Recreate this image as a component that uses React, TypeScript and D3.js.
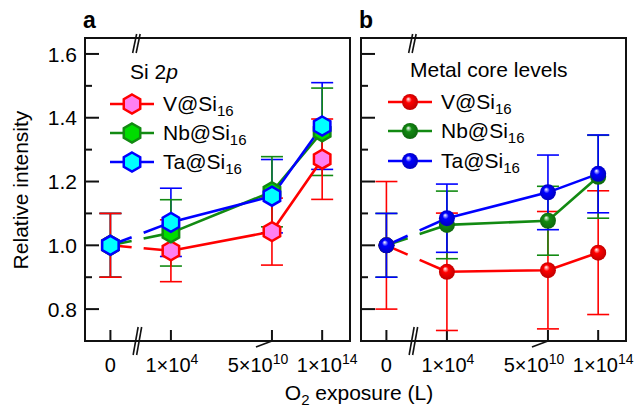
import React from 'react';
import * as d3 from 'd3';

// O2 exposure categories, placed on a broken axis
const exposureUnits = [0, 1, 2.67, 3.5];
const tickBase = ['0', '1×10', '5×10', '1×10'];
const tickExp = ['', '4', '10', '14'];
const axisBreakUnit = 0.45;

const seriesNames = ['V', 'Nb', 'Ta'];

// panel a: Si 2p
const siV = [1.0, 0.983, 1.043, 1.27];
const siVErr = [0.1, 0.097, 0.105, 0.126];
const siNb = [1.0, 1.039, 1.168, 1.356];
const siNbErr = [0.1, 0.104, 0.11, 0.137];
const siTa = [1.0, 1.072, 1.154, 1.374];
const siTaErr = [0.1, 0.107, 0.115, 0.136];

// panel b: metal core levels
const mV = [1.0, 0.917, 0.922, 0.977];
const mVErr = [0.2, 0.184, 0.184, 0.194];
const mNb = [1.0, 1.064, 1.077, 1.215];
const mNbErr = [0.1, 0.106, 0.108, 0.13];
const mTa = [1.0, 1.085, 1.166, 1.224];
const mTaErr = [0.1, 0.107, 0.117, 0.122];

const yMajor = [0.8, 1.0, 1.2, 1.4, 1.6];
const yMinor = [0.9, 1.1, 1.3, 1.5];

const colors = { V: '#ff0000', Nb: '#128a12', Ta: '#0000ff' };
const hexFill = { V: '#ff80f0', Nb: '#00dd00', Ta: '#00ffff' };

const FONT = '"Liberation Sans", Arial, Helvetica, sans-serif';
const W = 640;
const H = 409;
const top = 38;
const bottom = 341;
const panelW = 265;

const y = d3.scaleLinear().domain([0.7, 1.65]).range([bottom, top]);

const hexPath = (cx, cy, r) => {
  const pts = d3.range(6).map(k => {
    const a = (Math.PI / 180) * (-90 + 60 * k);
    return [cx + r * Math.cos(a), cy + r * Math.sin(a)];
  });
  return 'M' + pts.map(p => p.join(',')).join('L') + 'Z';
};

const Label = ({ name, x0, y0 }) => (
  <text x={x0} y={y0} fontFamily={FONT} fontSize={21} fill="#000">
    {name}@Si<tspan dy={5} fontSize={15}>16</tspan>
  </text>
);

const Panel = ({ left, letter, title, data, errors, errOrder, kind }) => {
  const x = d3.scaleLinear().domain([-0.42, 3.96]).range([left, left + panelW]);
  const bx = x(axisBreakUnit);
  const line = d3.line();
  const marker = (name, cx, cy, key) =>
    kind === 'hex' ? (
      <path key={key} d={hexPath(cx, cy, 9.5)} fill={hexFill[name]} stroke={colors[name]} strokeWidth={2.5} />
    ) : (
      <circle key={key} cx={cx} cy={cy} r={8} fill={`url(#sphere-${name})`} />
    );

  // line pieces, with a gap where the axis is broken
  const segments = values => {
    const p = values.map((v, i) => [x(exposureUnits[i]), y(v)]);
    const at = xx => {
      const t = (xx - p[0][0]) / (p[1][0] - p[0][0]);
      return [xx, p[0][1] + t * (p[1][1] - p[0][1])];
    };
    return [[p[0], at(bx - 6)], [at(bx + 6), p[1]], p.slice(1)];
  };

  const legendX = kind === 'hex' ? left + 47 : left + 49;
  const legendRows = kind === 'hex' ? [104, 133, 162] : [102, 131, 161];

  return (
    <g>
      <text x={left - 2} y={28} fontFamily={FONT} fontSize={23} fontWeight="bold">{letter}</text>
      {/* frame */}
      <rect x={left} y={top} width={panelW} height={bottom - top} fill="none" stroke="#111" strokeWidth={2} />
      {/* y ticks */}
      {yMajor.map(v => (
        <line key={'M' + v} x1={left} x2={left + 14} y1={y(v)} y2={y(v)} stroke="#111" strokeWidth={2} />
      ))}
      {yMinor.map(v => (
        <line key={'m' + v} x1={left} x2={left + 7} y1={y(v)} y2={y(v)} stroke="#111" strokeWidth={2} />
      ))}
      {/* x ticks */}
      {exposureUnits.map((u, i) => (
        <line key={'xt' + i} x1={x(u)} x2={x(u)} y1={bottom} y2={bottom - 11} stroke="#111" strokeWidth={2} />
      ))}
      {exposureUnits.map((u, i) => (
        <text key={'xl' + i} x={x(u) + [0, 1, -14, 5][i]} y={372} textAnchor="middle" fontFamily={FONT} fontSize={20}>
          {tickBase[i]}
          {tickExp[i] && <tspan dy={-8} fontSize={14}>{tickExp[i]}</tspan>}
        </text>
      ))}
      {/* axis breaks */}
      {[0, 3.5].map(d => (
        <line key={'bb' + d} x1={bx - 4.5 + d} y1={bottom + 14} x2={bx + 0.5 + d} y2={bottom - 14} stroke="#111" strokeWidth={1.6} />
      ))}
      {[0, 3.5].map(d => (
        <line key={'tb' + d} x1={bx - 5 + d} y1={top + 15} x2={bx - 1 + d} y2={top - 4} stroke="#111" strokeWidth={1.6} />
      ))}
      <line x1={x(exposureUnits[2]) - 16} y1={bottom + 6} x2={x(exposureUnits[2])} y2={bottom} stroke="#111" strokeWidth={1.6} />

      {/* error bars */}
      {errOrder.map(si => {
        const name = seriesNames[si];
        return data[si].map((v, i) => {
          const cx = x(exposureUnits[i]);
          const e = errors[si][i];
          return (
            <g key={name + 'e' + i} stroke={colors[name]} strokeWidth={1.6}>
              <line x1={cx} x2={cx} y1={y(v - e)} y2={y(v + e)} />
              <line x1={cx - 11} x2={cx + 11} y1={y(v - e)} y2={y(v - e)} />
              <line x1={cx - 11} x2={cx + 11} y1={y(v + e)} y2={y(v + e)} />
            </g>
          );
        });
      })}
      {/* lines */}
      {seriesNames.map((name, si) =>
        segments(data[si]).map((seg, k) => (
          <path key={name + 'l' + k} d={line(seg)} fill="none" stroke={colors[name]} strokeWidth={2.6} />
        ))
      )}
      {/* markers */}
      {seriesNames.map((name, si) =>
        data[si].map((v, i) => marker(name, x(exposureUnits[i]), y(v), name + 'm' + i))
      )}

      {/* legend */}
      {title}
      {seriesNames.map((name, si) => (
        <g key={name + 'leg'}>
          <line x1={legendX - 22} x2={legendX + 22} y1={legendRows[si]} y2={legendRows[si]} stroke={colors[name]} strokeWidth={2.6} />
          {marker(name, legendX, legendRows[si], name + 'legm')}
          <Label name={name} x0={legendX + 31} y0={legendRows[si] + 7} />
        </g>
      ))}
    </g>
  );
};

export default function App() {
  const leftA = 85;
  const leftB = 361;
  return (
    <svg width={W} height={H} style={{ position: 'absolute', left: 0, top: 0, background: '#fff' }}>
      <defs>
        {seriesNames.map(name => (
          <radialGradient key={name} id={`sphere-${name}`} cx="0.5" cy="0.5" r="0.55" fx="0.38" fy="0.3">
            <stop offset="0" stopColor="#ffffff" />
            <stop offset="0.35" stopColor={colors[name]} />
            <stop offset="1" stopColor={d3.color(colors[name]).darker(0.9).toString()} />
          </radialGradient>
        ))}
      </defs>
      <Panel
        left={leftA}
        letter="a"
        kind="hex"
        data={[siV, siNb, siTa]}
        errors={[siVErr, siNbErr, siTaErr]}
        errOrder={[2, 1, 0]}
        title={
          <text x={130} y={79} fontFamily={FONT} fontSize={21}>
            Si 2<tspan fontStyle="italic">p</tspan>
          </text>
        }
      />
      <Panel
        left={leftB}
        letter="b"
        kind="sphere"
        data={[mV, mNb, mTa]}
        errors={[mVErr, mNbErr, mTaErr]}
        errOrder={[0, 1, 2]}
        title={
          <text x={410} y={77} fontFamily={FONT} fontSize={21}>
            Metal core levels
          </text>
        }
      />
      {/* y axis tick labels */}
      {yMajor.map(v => (
        <text key={v} x={77} y={y(v)} dy="0.36em" textAnchor="end" fontFamily={FONT} fontSize={21}>
          {v.toFixed(1)}
        </text>
      ))}
      <text transform={`translate(28,190) rotate(-90)`} textAnchor="middle" fontFamily={FONT} fontSize={21}>
        Relative intensity
      </text>
      <text x={359} y={400} textAnchor="middle" fontFamily={FONT} fontSize={21}>
        O<tspan dy={5} fontSize={15}>2</tspan>
        <tspan dy={-5}> exposure (L)</tspan>
      </text>
    </svg>
  );
}
